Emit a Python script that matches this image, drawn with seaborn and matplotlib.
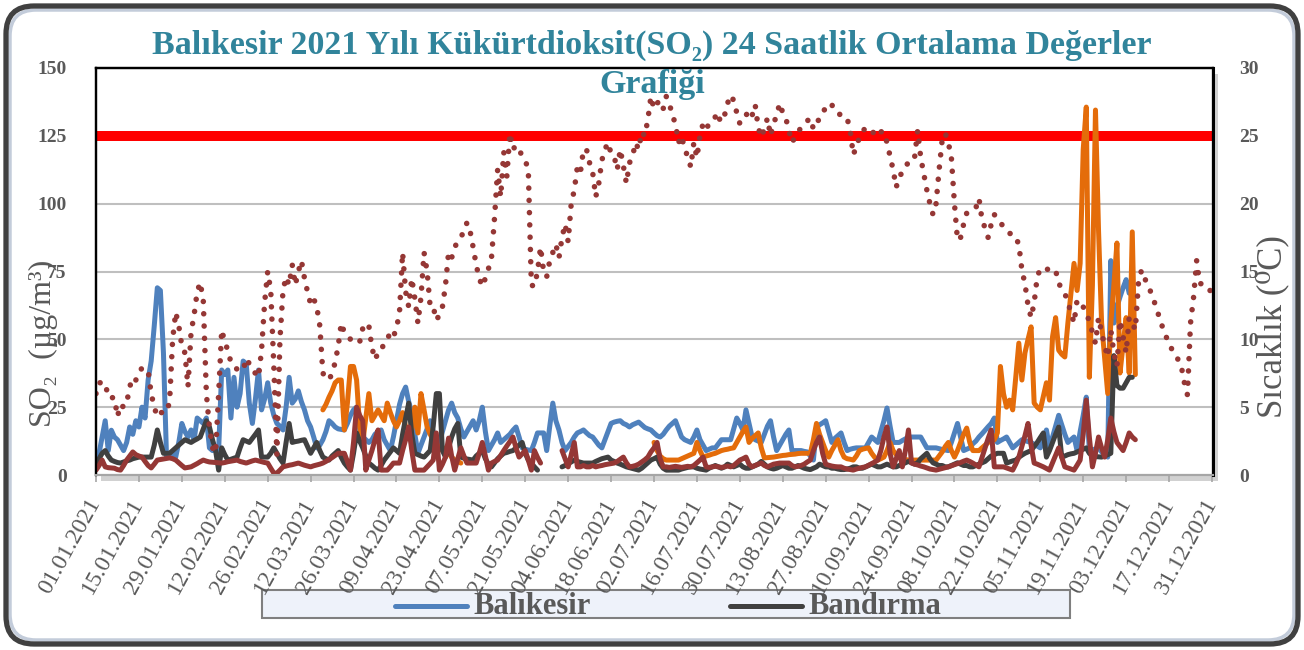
"""Balikesir 2021 SO2 daily averages with temperature (twin axis)."""
import matplotlib
matplotlib.use("Agg")
import matplotlib.pyplot as plt
import matplotlib.patches as mpatches
import matplotlib.transforms as mtransforms
from matplotlib.lines import Line2D
import numpy as np
import pandas as pd
import seaborn as sns

nan = np.nan

DATES = pd.date_range("2021-01-01", "2021-12-31", freq="D")
TICK_LABELS = [
    "01.01.2021", "15.01.2021", "29.01.2021", "12.02.2021", "26.02.2021",
    "12.03.2021", "26.03.2021", "09.04.2021", "23.04.2021", "07.05.2021",
    "21.05.2021", "04.06.2021", "18.06.2021", "02.07.2021", "16.07.2021",
    "30.07.2021", "13.08.2021", "27.08.2021", "10.09.2021", "24.09.2021",
    "08.10.2021", "22.10.2021", "05.11.2021", "19.11.2021", "03.12.2021",
    "17.12.2021", "31.12.2021",
]
LIMIT = 125

# daily SO2, ug/m3 (left axis)
BALIKESIR = [
    4.4, 8, 14, 20, 9, 16.5, 14, 13, 11, 9,
    12, 17.7, 15, 20, 17.7, 25, 21, 35, 42, 55,
    69, 68, 45, 6.6, 7, 8, 6.6, 12, 19, 16,
    14, 16.6, 13, 21, 20, 19, 21, 10, 9, 9.5,
    9, 38.7, 37, 38.7, 21, 36, 25, 30, 42, 41,
    26.5, 19, 28, 38.7, 24, 28, 34, 26.5, 22, 19,
    18, 16.6, 25, 36, 26.5, 28, 31, 27, 24, 20,
    17.7, 14, 10, 11, 13, 16, 20, 19, 17.7, 17,
    16.8, 16.6, 19, 22, 24, 25, 16.6, 14, 13, 12,
    13, 15, 16, 16.6, 13, 11, 9, 14, 20, 26,
    30, 32.4, 27, 23, 15, 8, 11, 14, 17, 20,
    16, 13, 12, 16, 20, 24, 26.5, 23, 21, 17,
    14, 16, 18, 20, 16.6, 20, 25, 16, 9, 11,
    13, 15.5, 12, 13, 14, 15, 16.5, 17.7, 14, 10,
    9.5, 9.2, 9, 12, 15.5, 15.5, 15.5, 9, 18, 26.5,
    20, 16.6, 12, 9, 10.5, 12, 14, 15.5, 16, 16.6,
    15.5, 14.5, 14, 12.5, 11, 10, 13, 16, 19, 19.5,
    19.8, 20, 19, 18.5, 17.7, 18.5, 19, 19.5, 18.5, 17.5,
    17, 16.6, 15.5, 14.5, 14, 15, 16.6, 18, 19, 20,
    17, 14, 13, 12.5, 12, 14, 16.6, 13, 11, 9,
    9.5, 10, 10, 11.5, 13, 13, 13, 13, 17, 21,
    19, 16.6, 24, 19, 14, 13, 12.5, 12, 15, 18,
    20, 14, 9, 11, 13, 15, 16.6, 9, 9, 9,
    9, 8.7, 8.5, 7, 5.5, 17.7, 18.5, 19.2, 20, 16,
    12, 13.5, 14.5, 15.5, 12, 9, 9.5, 9.8, 10, 10,
    10, 10, 12, 14, 13, 12, 16, 20, 24.7, 18,
    12, 12, 12, 12.7, 13.3, 14, 14, 14, 14, 14,
    12, 10, 10, 10, 10, 9.7, 9.4, 9.2, 9, 12,
    15.5, 19, 14, 9, 9.5, 10, 11.5, 12.5, 14, 15.2,
    16.5, 17.8, 19, 21, 12, 12.7, 13.3, 14, 12, 10,
    11, 12, 13, 12.7, 12.3, 12, 11.3, 10.7, 10, 13,
    16.6, 10, 14, 18, 22, 18.5, 15, 12, 13, 14,
    9, 16, 22, 28.7, 9, 9.3, 9.6, 10, 8.5, 7.5,
    6.6, 79, 56, 62, 65.6, 69, 72, 67, 67, nan,
] + [nan] * 25

BANDIRMA = [
    4.4, 6, 8, 9, 7, 5.5, 5, 4.6, 4.4, 4.8,
    5.2, 5.5, 6, 6.3, 6.6, 6.6, 6.6, 6.6, 6.6, 11,
    16.6, 12, 8, 8, 8, 9, 10, 11, 12, 13,
    12.5, 12, 12.7, 13.3, 14, 17, 20, 17.7, 13, 9,
    1.8, 10, 7.5, 5.5, 5.8, 6.2, 6.6, 10, 13, 12.5,
    12, 13.5, 15, 16.6, 6.6, 6.6, 6.6, 8, 10, 8,
    6, 4.4, 12, 19, 12, 12.3, 12.5, 12.8, 13, 10.5,
    8, 10, 12, 9, 6.6, 6, 5.5, 7, 8, 9,
    6.5, 4.4, 3, 1.8, 8, 15.5, 12.5, 10, 7, 4.4,
    3.5, 2.5, 1.8, 3.5, 5.5, 7, 8.5, 10, 9, 8,
    15, 21, 26.5, 15, 8, 7.5, 7, 6.6, 7.8, 9,
    18, 30, 30, 9, 6.6, 10, 14, 17, 19, 6.6,
    6.2, 5.9, 5.7, 5.5, 7, 8, 9, 6, 4, 3,
    4.5, 6, 7, 8, 8.3, 8.7, 9, 10, 11, 12,
    8, 5.5, 4.4, 3, 1.8, nan, nan, nan, nan, nan,
    nan, nan, 3, 3.5, 4.2, 4.8, 5.5, 5, 4.7, 4.4,
    4.4, 4.4, 4.4, 5, 5.5, 6, 6.3, 6.6, 5.5, 5,
    4.4, 4, 3.5, 3, 2.7, 2.4, 2.1, 1.8, 2.5, 3.5,
    4.5, 5.5, 6, 6.6, 4, 2.5, 1.8, 1.8, 1.8, 1.8,
    1.8, 2.2, 2.5, 2.8, 3, 3, 2.5, 2.2, 2, 1.8,
    2.5, 3, 3.5, 3, 2.5, 3, 4, 3.5, 3, 3.5,
    4, 3, 2.5, 2.5, 3, 3.5, 4, 5, 4, 3,
    2.5, 2.2, 2.5, 3, 3.5, 3, 2.5, 2.5, 3, 3.5,
    3, 2.5, 2.2, 2, 2.5, 3, 4, 3.5, 3, 3,
    2.5, 2.5, 2.2, 2, 2, 2.2, 2.5, 3, 3, 2.5,
    2.5, 3, 3.5, 4, 3.5, 3, 3, 3.5, 4, 3.5,
    3, 3, 3.5, 4, 4.5, 5, 4.5, 4, 4.5, 6,
    7, 8, 6, 4.5, 4, 3.5, 3.5, 3, 3, 3.5,
    4, 4.5, 4, 3.5, 3.5, 3, 3, 3.5, 4, 4.5,
    5, 6, 7, 7.5, 8, 8, 8, 4.4, 4.8, 5.2,
    5.5, 6.5, 7.3, 8, 8.5, 9, 10.5, 12, 13.8, 15.5,
    6.6, 9, 12, 15, 17.7, 6.6, 7, 7.5, 7.8, 8,
    8.5, 9, 9.5, 10, 8, 7, 6.8, 6.7, 6.6, 7,
    7.5, 8, 44, 33, 32, 32, 34, 36, 36, nan,
] + [nan] * 25

# third station (orange, not in legend)
STATION3 = [nan] * 74 + [
    24, 26, 28.7, 31, 34, 35,
    35, 16.6, 26.5, 40, 40, 35, 17.7, 12, 21, 30,
    20, 22, 24, 22, 20, 26.5, 23, 20, 17.7, 20,
    23, 17.7, 17, 16.6, 25, 15.5, 30, 24, 17.7, 15,
    13, 11.5, 10, 9, 10, 8, 6.6, 5.5, 5, 4.4,
] + [nan] * 62 + [
    12, 9, 7, 6, 5.5, 5.5, 5.5, 5.5,
    5.5, 6, 6.5, 7, 7.5, 8, 12, 9, 6.6, 7,
    7.3, 7.7, 8, 8.5, 9, 9.3, 9.5, 9.8, 10, 12,
    14, 16, 17.7, 12, 13.5, 14.5, 15.5, 10, 6.3, 6.4,
    6.5, 6.6, 6.8, 7, 7.2, 7.3, 7.5, 7.6, 7.7, 7.9,
    8, 8, 8, 8, 13, 19, 15, 12, 9, 6.6,
    9, 11, 13, 9, 6.6, 6, 5.8, 5.5, 7, 9,
    9.5, 9.8, 10, 8, 6.5, 5.5, 6, 6.6, 9, 12,
    9, 7.5, 6.6, 6, 5.7, 5.5, 5.5, 5.5, 5.5, 5.5,
    5.5, 5.5, 5.5, 5.5, 5.5, 7, 8.5, 10.5, 12, 9,
    6.6, 9, 12, 15, 17.3, 12, 9, 9, 9, 10,
    11, 12, 12.5, 13, 15.5, 40, 30, 25, 27.6, 24,
    36, 48.6, 35, 45, 50, 54.6, 26.5, 25, 24, 29,
    34, 27.6, 51, 58, 46, 44.5, 43.5, 56, 67, 78,
    68, 78, 120, 135.6, 36, 70, 134.5, 90, 56, 43,
    30, 56, 70, 85.5, 37.6, 48, 58, 37.6, 89.6, 37,
] + [nan] * 25

# fourth station (dark red, not in legend)
STATION4 = [
    1.8, 3.5, 5.5, 3, 2.7, 2.6, 2.5, 2, 1.8, 3.5,
    5.5, 7, 8.5, 7.5, 7, 6.6, 5, 3.5, 2.6, 4,
    5.5, 5.7, 5.9, 6.1, 6.3, 6, 5.5, 4.5, 3.5, 2.6,
    2.8, 3, 3.6, 4.2, 4.9, 5.5, 5.1, 4.8, 4.7, 4.6,
    4.5, 4.4, 4.6, 4.9, 5.1, 5.3, 5.5, 5, 4.7, 4.4,
    4.8, 5.2, 5.5, 5.2, 4.9, 4.6, 4.4, 2.5, 0.7, 0.7,
    1.8, 3, 3.3, 3.6, 3.8, 4.1, 4.4, 4, 3.6, 3.3,
    3, 3.4, 3.7, 4, 4.4, 5, 5.7, 6.4, 7.2, 8,
    8, 8, 5, 1.8, 12, 25, 22, 20, 1.8, 5.5,
    9, 13, 16.6, 1.8, 1.8, 1.8, 3, 4.4, 4.4, 4.4,
    9, 13, 17.7, 9, 1.8, 1.8, 1.8, 1.8, 3, 4.2,
    5.5, 15.5, 1.8, 4, 6.6, 13.6, 7, 1.8, 6, 10,
    7, 4.4, 4.4, 4.4, 4.4, 8, 12, 7, 1.8, 4.4,
    5, 5.5, 7.2, 9, 10.7, 12.3, 14, 10, 6.6, 7.8,
    9, 5.5, 1.8, 9, 6.5, 4.4, nan, nan, nan, nan,
    nan, nan, 9, 6, 3, 7.5, 12, 3, 3, 3.5,
    3, 3, 3.5, 3, 3.3, 3.5, 3.8, 4, 4.2, 4.4,
    5, 5.8, 6.6, 4.5, 3, 3.2, 3.5, 4, 4.8, 5.6,
    6.6, 8.5, 10, 12, 6, 3, 3, 2.8, 3, 3.2,
    3, 2.8, 3, 3.2, 3, 3.5, 4.5, 5.5, 6.6, 3,
    2.8, 3, 3.2, 3, 2.8, 3, 3.3, 3, 3.5, 4.5,
    5.5, 6, 6.6, 4, 3, 3.5, 4, 4.4, 3.5, 3,
    3.5, 4, 4.2, 4.4, 4.4, 4.4, 4.4, 3.5, 3, 3.2,
    3.5, 4, 4.8, 5.5, 9, 12, 14, 8, 4, 3.6,
    3.3, 3.1, 3, 3, 2.5, 2.2, 2, 1.8, 2.2, 2.5,
    2.8, 3, 3.6, 4.2, 4.8, 5.5, 9, 14, 17.7, 8,
    3, 6, 9, 3, 9, 16.6, 4.4, 4, 3.7, 3.3,
    3, 2.6, 2.2, 2, 1.8, 2.1, 2.4, 2.7, 3, 3.4,
    3.8, 4.2, 4.6, 5.1, 5.5, 5, 4.4, 3.7, 3, 6.5,
    10, 13.5, 16.6, 3, 3, 3, 3, 2.6, 2.2, 1.8,
    4, 6.6, 10.5, 14.5, 19, 11, 4.4, 4, 3.5, 3,
    2.4, 1.8, 4.5, 7.2, 10, 6.5, 3, 2.6, 2.2, 1.8,
    3.6, 5.5, 15, 27.6, 14, 3, 8, 14, 10, 6.6,
    13, 21, 16, 12, 10.5, 9, 12, 15.5, 14, 13,
] + [nan] * 25

# daily mean temperature, degC (right axis)
TEMP = [
    6.0, 6.8, 6.8, 6.8, 5.7, 5.7, 5.7, 4.3, 5.2, 5.0,
    5.3, 6.5, 7.2, 7.0, 7.5, 7.9, 7.8, 7.7, 6.0, 5.0,
    4.3, 4.6, 4.6, 4.6, 5.4, 10.0, 12.0, 11.0, 9.5, 9.0,
    6.5, 10.5, 11.8, 13.5, 14.2, 12.8, 6.0, 3.5, 2.0, 1.6,
    6.0, 10.7, 9.8, 9.2, 8.3, 8.0, 7.8, 7.7, 7.7, 8.6,
    8.2, 7.7, 7.5, 7.2, 9.2, 12.7, 15.0, 13.6, 8.0, 1.5,
    10.0, 13.6, 14.6, 14.0, 15.5, 14.0, 15.0, 15.8, 14.5, 13.5,
    12.6, 13.0, 12.4, 11.0, 7.5, 7.2, 7.0, 7.5, 8.3, 9.5,
    11.2, 10.5, 10.3, 10.0, 10.1, 10.0, 9.8, 10.8, 11.2, 11.0,
    9.4, 8.5, 9.0, 9.1, 9.8, 10.0, 10.5, 10.2, 10.8, 12.0,
    16.4, 13.5, 12.4, 14.5, 13.0, 11.2, 13.1, 16.4, 15.0, 12.4,
    12.4, 11.4, 11.8, 12.4, 14.0, 16.4, 16.0, 16.8, 17.2, 17.5,
    18.0, 18.6, 18.0, 16.8, 15.5, 14.5, 13.9, 14.5, 15.2, 16.0,
    19.0, 22.5, 20.5, 23.8, 22.0, 25.2, 24.0, 24.3, 24.0, 23.5,
    23.2, 22.5, 14.0, 13.9, 15.0, 16.8, 15.0, 14.6, 15.8, 16.4,
    17.0, 16.0, 17.5, 18.5, 17.2, 20.0, 21.0, 22.7, 22.3, 24.0,
    24.0, 23.0, 22.3, 20.5, 21.5, 23.2, 24.0, 24.5, 23.7, 23.5,
    22.5, 24.0, 22.8, 21.5, 23.0, 23.5, 24.5, 24.0, 25.3, 25.0,
    26.2, 27.9, 27.0, 27.4, 27.6, 27.0, 27.9, 27.4, 26.5, 25.9,
    24.5, 25.0, 24.0, 23.5, 22.7, 24.5, 23.4, 25.0, 25.9, 25.5,
    25.9, 26.0, 26.4, 25.9, 26.7, 26.5, 27.4, 28.0, 27.6, 26.7,
    25.9, 26.3, 26.5, 26.9, 26.5, 27.3, 25.6, 24.9, 25.5, 26.3,
    25.0, 25.9, 26.5, 27.4, 26.7, 26.3, 25.4, 24.5, 24.9, 25.3,
    25.6, 25.9, 26.1, 26.3, 25.5, 25.9, 26.3, 26.8, 27.0, 27.4,
    27.3, 26.8, 26.7, 26.5, 26.3, 26.3, 25.4, 23.6, 24.2, 24.9,
    25.3, 25.6, 25.4, 25.2, 25.3, 25.0, 25.3, 25.3, 24.5, 23.5,
    22.5, 21.2, 22.0, 22.3, 22.8, 23.0, 23.4, 23.4, 25.4, 23.4,
    22.2, 21.0, 20.0, 19.2, 20.0, 22.5, 24.7, 25.2, 24.5, 23.4,
    20.0, 17.3, 17.5, 18.5, 19.3, 19.5, 19.6, 19.7, 20.4, 18.8,
    18.2, 17.5, 18.5, 19.2, 18.9, 18.6, 18.3, 18.0, 17.8, 17.8,
    17.5, 17.0, 15.1, 14.1, 12.5, 11.6, 12.7, 14.6, 15.2, 15.3,
    15.2, 15.1, 15.2, 15.1, 14.1, 13.8, 13.4, 12.7, 12.0, 11.2,
    12.9, 12.6, 12.4, 11.8, 11.4, 10.5, 9.7, 11.6, 10.5, 9.5,
    8.7, 10.7, 9.0, 8.0, 11.4, 10.2, 9.0, 11.6, 11.2, 10.7,
    14.1, 15.1, 14.5, 14.1, 13.5, 12.9, 12.2, 11.5, 10.8, 10.2,
    9.8, 9.2, 8.8, 8.5, 8.0, 6.8, 5.9, 11.2, 13.1, 15.8,
    14.1, 14.1, 13.8, 13.6, 13.6,
]

for s in (BALIKESIR, BANDIRMA, STATION3, STATION4, TEMP):
    assert len(s) == len(DATES), len(s)

sns.set_theme(style="white")
plt.rcParams["font.family"] = ["Liberation Serif", "DejaVu Serif"]
GRAY = "#595959"
W, H = 1304, 650
px = mtransforms.IdentityTransform()

fig = plt.figure(figsize=(W / 100, H / 100), dpi=100)
fig.patch.set_facecolor("white")

# drop shadow behind plot area
fig.add_artist(mpatches.Rectangle((101, H - 481), 1117, 407, transform=px,
                                  facecolor="#000000", alpha=0.18, lw=0, zorder=-2))

ax = fig.add_axes([96 / W, 1 - 475 / H, 1117 / W, 407 / H])
ax.set_facecolor("white")
ax2 = ax.twinx()

ax.plot(DATES[[0, -1]], [LIMIT, LIMIT], color="#FF0000", lw=7.2,
        solid_capstyle="round", zorder=2)
sns.lineplot(x=DATES, y=BALIKESIR, ax=ax, color="#4F81BD", lw=3.6,
             estimator=None, errorbar=None, zorder=3)
ax.plot(DATES, STATION3, color="#E46C0A", lw=3.6, solid_joinstyle="round", zorder=4)
ax.plot(DATES, BANDIRMA, color="#404040", lw=3.6, solid_joinstyle="round", zorder=5)
ax.plot(DATES, STATION4, color="#953735", lw=3.6, solid_joinstyle="round", zorder=6)
sns.lineplot(x=DATES, y=TEMP, ax=ax2, color="#953735", lw=4.0,
             linestyle=(0, (0.01, 2.2)), dash_capstyle="round",
             estimator=None, errorbar=None)

ax.set_xlim(DATES[0], DATES[-1] + pd.Timedelta(hours=8))
ax.set_ylim(0, 150)
ax.set_yticks(range(0, 151, 25))
ax2.set_ylim(0, 30)
ax2.set_yticks(range(0, 31, 5))
for a in (ax, ax2):
    a.set_xlabel("")
    a.set_ylabel("")

ax.yaxis.grid(True, color="#BFBFBF", lw=1.5)
ax.xaxis.grid(False)
ax2.grid(False)

ax.set_xticks(pd.to_datetime(TICK_LABELS, format="%d.%m.%Y"))
ax.set_xticklabels(TICK_LABELS, rotation=61, ha="right", va="center",
                   rotation_mode="anchor", fontsize=17, color=GRAY)
ax.tick_params(axis="x", bottom=True, length=5, width=1.2, color="#A6A6A6",
               direction="out", pad=13)
ax.tick_params(axis="y", left=False, length=0, pad=21, labelsize=14, labelcolor=GRAY)
ax2.tick_params(axis="y", right=False, length=0, pad=19, labelsize=14, labelcolor=GRAY)
for lbl in ax.get_yticklabels() + ax2.get_yticklabels():
    lbl.set_fontweight("bold")

for a in (ax, ax2):
    for side in ("top", "left", "right"):
        a.spines[side].set_color("black")
        a.spines[side].set_linewidth(1.6)
    a.spines["bottom"].set_color("#A6A6A6")
    a.spines["bottom"].set_linewidth(1.5)
ax2.spines["right"].set_linewidth(2.2)

TEAL = "#31849B"
fig.text(652 / W, 1 - 45 / H,
         "Balıkesir 2021 Yılı Kükürtdioksit(SO₂) 24 Saatlik Ortalama Değerler",
         ha="center", va="center", fontsize=24.5, fontweight="bold", color=TEAL)
fig.text(652 / W, 1 - 85 / H, "Grafiği", ha="center", va="center",
         fontsize=24.5, fontweight="bold", color=TEAL)

fig.text(43 / W, 1 - 343 / H, "SO₂  (µg/m³)", rotation=90, ha="center",
         va="center", fontsize=23, color=GRAY)
fig.text(1272 / W, 1 - 327 / H, "Sıcaklık (⁰C)", rotation=90, ha="center",
         va="center", fontsize=25, color=GRAY)

# legend (only the two named stations)
fig.add_artist(mpatches.Rectangle((262, H - 618), 808, 28, transform=px,
                                  facecolor="#EEF2FA", edgecolor="#7F7F7F",
                                  lw=1.5, zorder=-1))
legend_items = [("Balıkesir", "#4F81BD", 395), ("Bandırma", "#404040", 730)]
for name, color, x0 in legend_items:
    fig.add_artist(Line2D([x0, x0 + 72], [H - 606, H - 606], transform=px,
                          color=color, lw=3.6, solid_capstyle="round", zorder=5))
    fig.text((x0 + 78) / W, 1 - 607 / H, name, ha="left", va="center",
             fontsize=22, fontweight="bold", color=GRAY, zorder=6)

# rounded outer frame
fig.add_artist(mpatches.FancyBboxPatch((10, 10), 1284, 630, transform=px,
                                       boxstyle="round,pad=0,rounding_size=26",
                                       fill=False, edgecolor="#C3CCDA", lw=2.5, zorder=19))
fig.add_artist(mpatches.FancyBboxPatch((6, 6), 1292, 638, transform=px,
                                       boxstyle="round,pad=0,rounding_size=28",
                                       fill=False, edgecolor="#404040", lw=3.8, zorder=20))

fig.savefig("out.png", dpi=100)
